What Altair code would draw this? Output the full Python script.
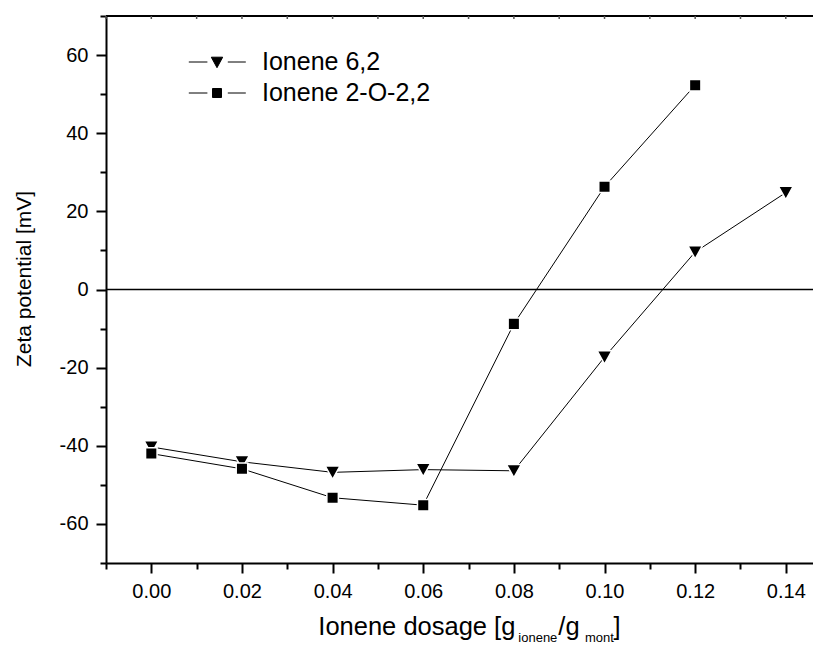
import altair as alt
import pandas as pd

# ---- data ----
series_names = ["Ionene 6,2", "Ionene 2-O-2,2"]
dosage_62 = [0.00, 0.02, 0.04, 0.06, 0.08, 0.10, 0.12, 0.14]
zeta_62 = [-40.3, -44.1, -46.8, -46.1, -46.4, -17.3, 9.6, 24.8]
dosage_2o22 = [0.00, 0.02, 0.04, 0.06, 0.08, 0.10, 0.12]
zeta_2o22 = [-42.0, -45.9, -53.3, -55.2, -8.8, 26.3, 52.3]

x_tick_values = [-0.01, 0.00, 0.01, 0.02, 0.03, 0.04, 0.05, 0.06, 0.07,
                 0.08, 0.09, 0.10, 0.11, 0.12, 0.13, 0.14]
y_tick_values = [-70, -60, -50, -40, -30, -20, -10, 0, 10, 20, 30, 40, 50, 60, 70]
zero_line = [0]

rows = []
for x, y in zip(dosage_62, zeta_62):
    rows.append({"dosage": x, "zeta": y, "series": series_names[0]})
for x, y in zip(dosage_2o22, zeta_2o22):
    rows.append({"dosage": x, "zeta": y, "series": series_names[1]})
df = pd.DataFrame(rows)

FONT = "Liberation Sans"
W, H = 707, 547

# marker shapes (custom paths, unit box scaled by sqrt(size)/2)
marker_tri = "M-1.22,-1.05L1.22,-1.05L0,1.15Z"
marker_sq = "M-0.96,-0.96H0.96V0.96H-0.96Z"
legend_tri = "M-4.7,0H-1.6M1.8,0H4.8M-0.95,-0.8L0.95,-0.8L0,0.95Z"
legend_sq = "M-4.7,0H-1.6M1.8,0H4.8M-0.75,-0.75H0.75V0.75H-0.75Z"
legend_shapes = [legend_tri, legend_sq]

x_scale = alt.Scale(domain=[-0.01, 0.146], nice=False, zero=False)
y_scale = alt.Scale(domain=[-70, 70], nice=False, zero=False)

x_axis = alt.Axis(
    values=x_tick_values, title=None, grid=False,
    domainColor="black", domainWidth=2,
    tickColor="black", tickWidth=2,
    tickSize={"condition": {"test": "abs(round(datum.value*100)) % 2 == 1", "value": 6}, "value": 10},
    labelExpr="abs(round(datum.value*100)) % 2 == 1 ? '' : format(datum.value, '.2f')",
    labelFont=FONT, labelFontSize=20, labelColor="black", labelPadding=8,
    labelFlush=False, labelOverlap=False,
)
y_axis = alt.Axis(
    values=y_tick_values, title=None, grid=False,
    domainColor="black", domainWidth=2,
    tickColor="black", tickWidth=2,
    tickSize={"condition": {"test": "abs(round(datum.value/10)) % 2 == 1", "value": 6}, "value": 10},
    labelExpr="abs(round(datum.value/10)) % 2 == 1 ? '' : toString(datum.value)",
    labelFont=FONT, labelFontSize=20, labelColor="black", labelPadding=8,
    labelFlush=False, labelOverlap=False,
)

X = alt.X("dosage:Q", scale=x_scale, axis=x_axis)
Y = alt.Y("zeta:Q", scale=y_scale, axis=y_axis)

base = alt.Chart(df)

lines = base.mark_line(color="black", strokeWidth=1).encode(
    x=X, y=Y, detail="series:N",
)

points = base.mark_point(filled=True, fill="black", stroke="white", strokeWidth=1.5,
                         opacity=1, size=144).encode(
    x=X, y=Y,
    shape=alt.Shape("series:N", scale=alt.Scale(domain=series_names, range=[marker_tri, marker_sq]),
                    legend=None),
)

zero = alt.Chart(pd.DataFrame({"zeta": zero_line})).mark_rule(color="black", strokeWidth=1.5).encode(
    y=Y
)

one = pd.DataFrame({"a": [0]})
top_border = alt.Chart(one).mark_rule(color="black", strokeWidth=2).encode(
    x=alt.value(0), x2=alt.value(W), y=alt.value(0)
)

# small inward ticks on the top frame
top_ticks = alt.Chart(pd.DataFrame({"dosage": x_tick_values})).mark_rule(
    color="#555555", strokeWidth=1.5
).encode(x=X, y=alt.value(0), y2=alt.value(3))


def txt(s, x, y, size, angle=0, align="left", baseline="alphabetic"):
    return alt.Chart(one).mark_text(
        font=FONT, fontSize=size, color="black", align=align, baseline=baseline, angle=angle
    ).encode(x=alt.value(x), y=alt.value(y), text=alt.value(s))


# legend (drawn as annotation: symbol with line stubs + label)
legend_parts = []
for i, (name, shp) in enumerate(zip(series_names, legend_shapes)):
    yy = 46 + 31 * i
    legend_parts.append(
        alt.Chart(one).mark_point(filled=True, fill="black", stroke="black", strokeWidth=1,
                                  opacity=1, size=144)
        .encode(x=alt.value(111), y=alt.value(yy), shape=alt.value(shp))
    )
    legend_parts.append(txt(name, 156, yy, 25, baseline="middle"))

y_title = txt("Zeta potential [mV]", -81, 263, 21, angle=270, align="center", baseline="middle")
x_title_parts = [
    txt("Ionene dosage [g", 212.3, 619, 25.5),
    txt("ionene", 412.3, 626, 13),
    txt("/g", 452.3, 619, 25.5),
    txt("mont", 479, 626, 13),
    txt("]", 507.5, 619, 25.5),
]

chart = alt.layer(
    lines, zero, points, top_border, top_ticks, *legend_parts, y_title, *x_title_parts
).properties(
    width=W, height=H,
    autosize=alt.AutoSizeParams(type="none"),
    padding={"left": 98, "top": 8, "right": 0, "bottom": 90},
).configure_view(stroke=None).configure(background="white")

chart.save("out.html", embed_options={"renderer": "svg", "actions": False})
